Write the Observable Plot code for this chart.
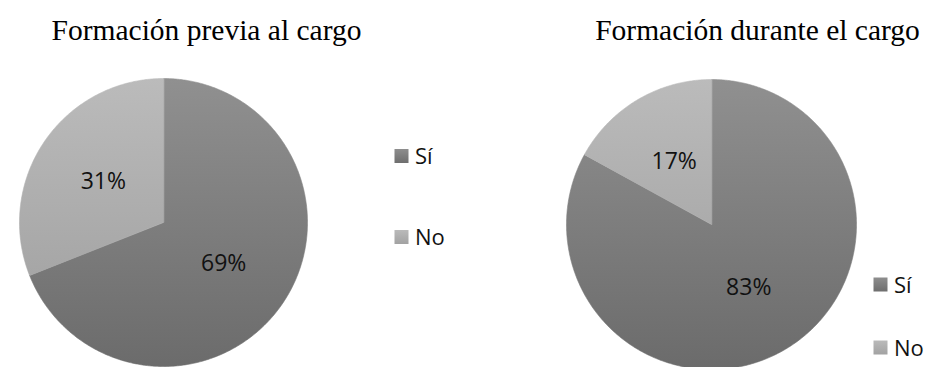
<!DOCTYPE html>
<html>
<head>
<meta charset="utf-8">
<script src="https://cdn.jsdelivr.net/npm/d3@7"></script>
<script src="https://cdn.jsdelivr.net/npm/@observablehq/plot@0.6"></script>
<style>
  html, body { margin: 0; padding: 0; background: #fff; }
  #chart { width: 926px; height: 367px; }
</style>
</head>
<body>
<div id="chart"></div>
<script>
// ---- data ----
const pieTitles = ["Formación previa al cargo", "Formación durante el cargo"];
const categories = ["Sí", "No"];
const previaValues = [69, 31];
const duranteValues = [83, 17];

// ---- layout (pixel geometry, separate from the data) ----
const W = 926, H = 367;
const layout = [
  {cx: 163, cy: 222, r: 144, titleX: 206, keyX: 401.5, keyY: [156, 237]},
  {cx: 711, cy: 224, r: 145, titleX: 757, keyX: 880.5, keyY: [284.5, 347.5]}
];
const KEY = 7; // half side of legend square
const series = [previaValues, duranteValues];
const gradFor = {"Sí": "url(#pieSi)", "No": "url(#pieNo)"};
const keyGradFor = {"Sí": "url(#keySi)", "No": "url(#keyNo)"};

const slicePts = [], shadowPts = [], labels = [], keys = [], titles = [];
const step = Math.PI / 360;
series.forEach((vals, i) => {
  const L = layout[i];
  const arcs = d3.pie().sort(null)(vals);
  arcs.forEach((a, j) => {
    const id = i + "-" + j;
    slicePts.push({id, cat: categories[j], x: L.cx, y: L.cy});
    const n = Math.max(2, Math.ceil((a.endAngle - a.startAngle) / step));
    for (let k = 0; k <= n; k++) {
      const ang = a.startAngle + (a.endAngle - a.startAngle) * k / n;
      slicePts.push({id, cat: categories[j], x: L.cx + L.r * Math.sin(ang), y: L.cy - L.r * Math.cos(ang)});
    }
    const mid = (a.startAngle + a.endAngle) / 2;
    labels.push({x: L.cx + 0.505 * L.r * Math.sin(mid), y: L.cy - 0.505 * L.r * Math.cos(mid), text: vals[j] + "%"});
    keys.push({x: L.keyX, y: L.keyY[j], cat: categories[j]});
  });
  const total = d3.sum(vals);
  const full = d3.pie().sort(null)([total])[0];
  const n = Math.ceil((full.endAngle - full.startAngle) / step);
  for (let k = 0; k <= n; k++) {
    const ang = full.startAngle + (full.endAngle - full.startAngle) * k / n;
    shadowPts.push({id: i, x: L.cx + (L.r - 1) * Math.sin(ang), y: L.cy - (L.r - 1) * Math.cos(ang)});
  }
  titles.push({x: L.titleX, y: 30, text: pieTitles[i]});
});

const chart = Plot.plot({
  width: W,
  height: H,
  margin: 0,
  x: {domain: [0, W], range: [0, W], axis: null},
  y: {domain: [0, H], range: [0, H], axis: null},
  style: {background: "#fff"},
  marks: [
    Plot.line(shadowPts, {x: "x", y: "y", z: "id", fill: "#777", stroke: "none", curve: "linear-closed", ariaLabel: "pie-shadow"}),
    Plot.line(slicePts.filter(d => d.cat === "Sí"), {x: "x", y: "y", z: "id", fill: gradFor["Sí"], stroke: gradFor["Sí"], strokeWidth: 0.6, curve: "linear-closed"}),
    Plot.line(slicePts.filter(d => d.cat === "No"), {x: "x", y: "y", z: "id", fill: gradFor["No"], stroke: gradFor["No"], strokeWidth: 0.6, curve: "linear-closed"}),
    Plot.text(labels, {x: "x", y: "y", text: "text", fontFamily: "'Open Sans', sans-serif", fontSize: 23, fill: "#111", textAnchor: "middle", lineAnchor: "middle"}),
    Plot.rect(keys.filter(d => d.cat === "Sí"), {x1: d => d.x - KEY, x2: d => d.x + KEY, y1: d => d.y - KEY, y2: d => d.y + KEY, fill: keyGradFor["Sí"], inset: 0}),
    Plot.rect(keys.filter(d => d.cat === "No"), {x1: d => d.x - KEY, x2: d => d.x + KEY, y1: d => d.y - KEY, y2: d => d.y + KEY, fill: keyGradFor["No"], inset: 0}),
    Plot.text(keys, {x: d => d.x + 13, y: d => d.y + 0.5, text: "cat", fontFamily: "'Open Sans', sans-serif", fontSize: 22, fill: "#111", textAnchor: "start", lineAnchor: "middle"}),
    Plot.text(titles, {x: "x", y: "y", text: "text", fontFamily: "'Liberation Serif', 'Times New Roman', serif", fontSize: 29.5, fill: "#000", textAnchor: "middle", lineAnchor: "middle"})
  ]
});

const svg = d3.select(chart);
svg.insert("defs", ":first-child").html(`
  <linearGradient id="pieSi" gradientUnits="userSpaceOnUse" x1="0" y1="78" x2="0" y2="369">
    <stop offset="0" stop-color="#909090"/>
    <stop offset="1" stop-color="#6b6b6b"/>
  </linearGradient>
  <linearGradient id="pieNo" gradientUnits="userSpaceOnUse" x1="0" y1="78" x2="0" y2="369">
    <stop offset="0" stop-color="#bbbbbb"/>
    <stop offset="1" stop-color="#9c9c9c"/>
  </linearGradient>
  <linearGradient id="keySi" x1="0" y1="0" x2="0" y2="1">
    <stop offset="0" stop-color="#8e8e8e"/>
    <stop offset="1" stop-color="#6e6e6e"/>
  </linearGradient>
  <linearGradient id="keyNo" x1="0" y1="0" x2="0" y2="1">
    <stop offset="0" stop-color="#bababa"/>
    <stop offset="1" stop-color="#a2a2a2"/>
  </linearGradient>
  <filter id="pieShadow" x="-20%" y="-20%" width="140%" height="140%">
    <feGaussianBlur stdDeviation="3"/>
    <feOffset dx="0" dy="2"/>
    <feComponentTransfer><feFuncA type="linear" slope="0.55"/></feComponentTransfer>
  </filter>
`);
svg.selectAll('g[aria-label="pie-shadow"]').attr("filter", "url(#pieShadow)");

document.getElementById("chart").appendChild(chart);
</script>
</body>
</html>
